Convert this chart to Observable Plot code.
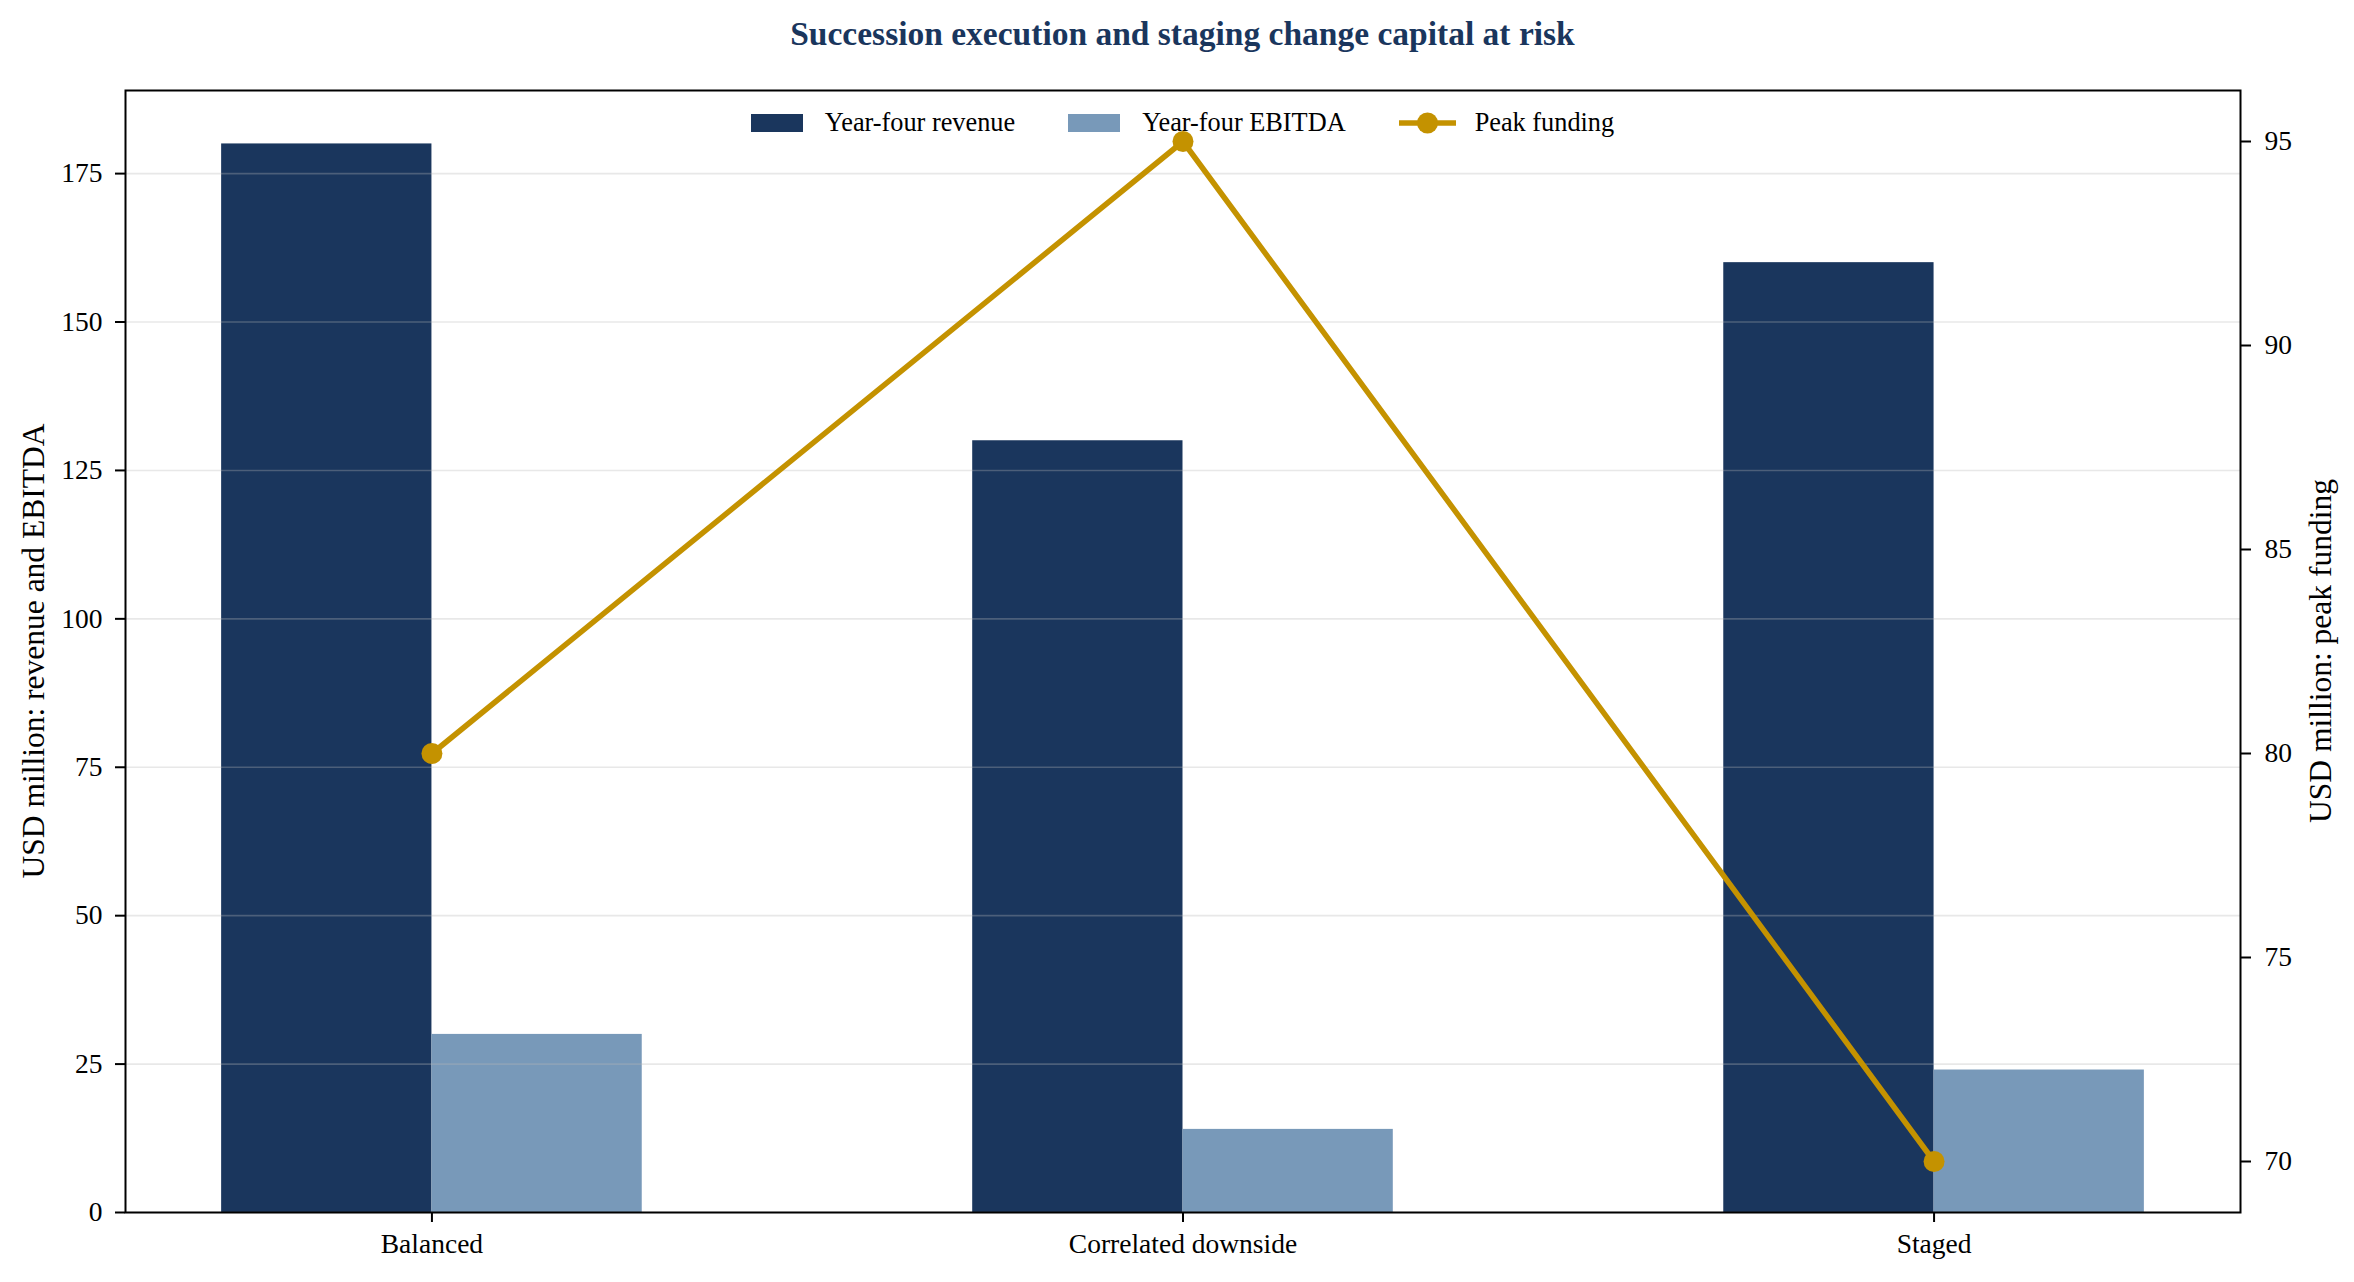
<!DOCTYPE html>
<html>
<head>
<meta charset="utf-8">
<script src="https://cdn.jsdelivr.net/npm/d3@7"></script>
<script src="https://cdn.jsdelivr.net/npm/@observablehq/plot@0.6"></script>
<style>
  html, body { margin: 0; padding: 0; background: #fff; }
  body { width: 2354px; height: 1282px; position: relative; overflow: hidden; font-family: "Liberation Serif", "Times New Roman", serif; }
  #header { position: relative; height: 66px; }
  #title { position: absolute; left: 125px; width: 2115px; top: 17px; text-align: center; font-weight: bold; font-size: 33.5px; line-height: 33.5px; color: #1a365d; white-space: nowrap; }
  #legend { position: absolute; left: 125px; width: 2115px; top: 104px; height: 38px; display: flex; justify-content: center; align-items: center; font-size: 26.3px; color: #000; }
  .sw { width: 52px; height: 18px; margin-right: 22px; }
  .item { display: flex; align-items: center; }
  .gap { width: 53px; }
  #chart svg { display: block; }
</style>
</head>
<body>
<div id="header"><div id="title"></div></div>
<div id="chart"></div>
<div id="legend"></div>
<script>
const titleText = "Succession execution and staging change capital at risk";
const categories = ["Balanced", "Correlated downside", "Staged"];
const revenue = [180, 130, 160];
const ebitda = [30, 14, 24];
const peakFunding = [80, 95, 70];
const leftTicks = [0, 25, 50, 75, 100, 125, 150, 175];
const rightTicks = [70, 75, 80, 85, 90, 95];
const leftDomain = [0, 189];
const rightDomain = [68.75, 96.25];
const xDomain = [-0.408, 2.408];
const seriesNames = ["Year-four revenue", "Year-four EBITDA", "Peak funding"];
const leftLabel = "USD million: revenue and EBITDA";
const rightLabel = "USD million: peak funding";

const colors = { revenue: "#1a365d", ebitda: "#7899b9", funding: "#c49200" };
const barWidth = 0.28;

const rows = categories.map((c, i) => ({ i, category: c, revenue: revenue[i], ebitda: ebitda[i], funding: peakFunding[i] }));
const toLeft = v => leftDomain[0] + (v - rightDomain[0]) / (rightDomain[1] - rightDomain[0]) * (leftDomain[1] - leftDomain[0]);
const fromLeft = v => rightDomain[0] + (v - leftDomain[0]) / (leftDomain[1] - leftDomain[0]) * (rightDomain[1] - rightDomain[0]);

document.getElementById("title").textContent = titleText;

const HEADER = 66;
const chart = Plot.plot({
  width: 2354,
  height: 1282 - HEADER,
  marginTop: 90 - HEADER,
  marginBottom: 70,
  marginLeft: 125,
  marginRight: 114,
  style: { fontFamily: "Liberation Serif", fontSize: "27.5px", color: "#000", background: "#fff" },
  x: { domain: xDomain, axis: null },
  y: { domain: leftDomain, axis: null },
  marks: [
    Plot.rect(rows, { x1: d => d.i - barWidth, x2: d => d.i, y1: 0, y2: "revenue", fill: colors.revenue, inset: 0 }),
    Plot.rect(rows, { x1: d => d.i, x2: d => d.i + barWidth, y1: 0, y2: "ebitda", fill: colors.ebitda, inset: 0 }),
    Plot.gridY(leftTicks, { stroke: "#b8b8b8", strokeOpacity: 0.32, strokeWidth: 1.6 }),
    Plot.line(rows, { x: "i", y: d => toLeft(d.funding), stroke: colors.funding, strokeWidth: 5.5 }),
    Plot.dot(rows, { x: "i", y: d => toLeft(d.funding), r: 10.5, fill: colors.funding, stroke: null }),
    Plot.axisY(leftTicks, { anchor: "left", tickSize: 10, tickPadding: 13, strokeWidth: 2, label: null, fontSize: 27.5 }),
    Plot.axisY(rightTicks.map(toLeft), { anchor: "right", tickSize: 10, tickPadding: 14, strokeWidth: 2, label: null, fontSize: 27.5, tickFormat: v => String(Math.round(fromLeft(v))) }),
    Plot.axisX([0, 1, 2], { anchor: "bottom", tickSize: 10, tickPadding: 11, strokeWidth: 2, label: null, fontSize: 27.5, tickFormat: i => categories[i] }),
    Plot.frame({ stroke: "#000", strokeWidth: 2 })
  ]
});
document.getElementById("chart").appendChild(chart);

const svg = d3.select(chart);
const midY = (90 + 1212) / 2 - HEADER;
svg.append("text")
  .attr("transform", `translate(44,${midY}) rotate(-90)`)
  .attr("text-anchor", "middle")
  .attr("font-family", "Liberation Serif")
  .attr("font-size", 31.5)
  .attr("fill", "#000")
  .text(leftLabel);
svg.append("text")
  .attr("transform", `translate(2331,${midY}) rotate(-90)`)
  .attr("text-anchor", "middle")
  .attr("font-family", "Liberation Serif")
  .attr("font-size", 31.5)
  .attr("fill", "#000")
  .text(rightLabel);

// Legend
const legend = document.getElementById("legend");
const legendColors = [colors.revenue, colors.ebitda, colors.funding];
seriesNames.forEach((name, k) => {
  const item = document.createElement("div");
  item.className = "item";
  if (k < 2) {
    const sw = document.createElement("div");
    sw.className = "sw";
    sw.style.background = legendColors[k];
    item.appendChild(sw);
  } else {
    const ns = "http://www.w3.org/2000/svg";
    const s = document.createElementNS(ns, "svg");
    s.setAttribute("width", 57); s.setAttribute("height", 24);
    s.style.marginRight = "19px";
    const ln = document.createElementNS(ns, "line");
    ln.setAttribute("x1", 0); ln.setAttribute("x2", 57); ln.setAttribute("y1", 12); ln.setAttribute("y2", 12);
    ln.setAttribute("stroke", legendColors[k]); ln.setAttribute("stroke-width", 5.5);
    const c = document.createElementNS(ns, "circle");
    c.setAttribute("cx", 28.5); c.setAttribute("cy", 12); c.setAttribute("r", 10.5); c.setAttribute("fill", legendColors[k]);
    s.appendChild(ln); s.appendChild(c);
    item.appendChild(s);
  }
  const t = document.createElement("span");
  t.textContent = name;
  item.appendChild(t);
  legend.appendChild(item);
  if (k < seriesNames.length - 1) {
    const g = document.createElement("div");
    g.className = "gap";
    legend.appendChild(g);
  }
});
</script>
</body>
</html>
